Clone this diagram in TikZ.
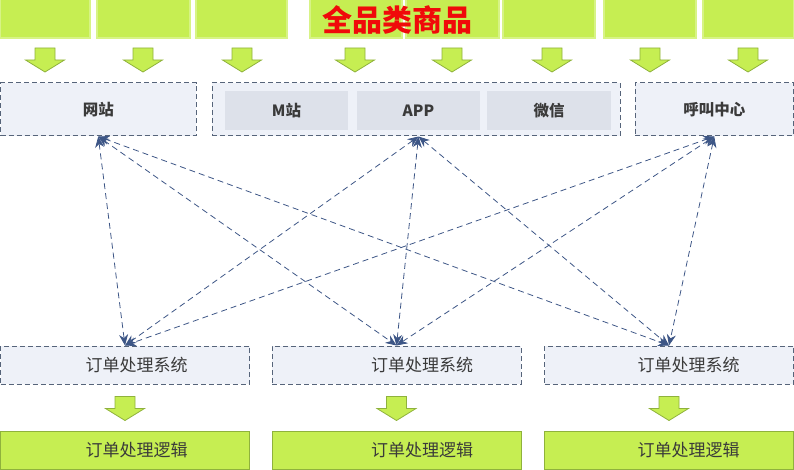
\documentclass[tikz,border=0pt]{standalone}
\usepackage{fontspec}
\setmainfont{Noto Sans CJK SC}
\usetikzlibrary{arrows.meta}
\definecolor{boxline}{HTML}{56647A}
\definecolor{boxfill}{HTML}{EEF1F8}
\definecolor{cellfill}{HTML}{DDE1EA}
\definecolor{leaf}{HTML}{C6EE52}
\definecolor{leafline}{HTML}{8FB23C}
\definecolor{linkblue}{HTML}{3D5686}
\definecolor{inkgray}{HTML}{3A3A3A}
\definecolor{titlered}{HTML}{F00A0A}
\tikzset{
  chanbox/.style={draw=boxline,fill=boxfill,dash pattern=on 5pt off 3pt,line width=1pt,
    inner sep=0pt,text=inkgray,font=\bfseries\fontsize{15.5}{17}\selectfont},
  cellbox/.style={fill=cellfill,inner sep=0pt,minimum height=39pt,
    text=inkgray,font=\bfseries\fontsize{15.5}{17}\selectfont},
  sysbox/.style={draw=boxline,fill=boxfill,dash pattern=on 5pt off 3pt,line width=1pt,
    inner sep=0pt,minimum width=249pt,minimum height=38pt,text=inkgray,font=\fontsize{17}{19}\selectfont},
  logicbox/.style={draw=leafline,fill=leaf,line width=1pt,
    inner sep=0pt,minimum width=249pt,minimum height=38pt,text=inkgray,font=\fontsize{17}{19}\selectfont},
  topbox/.style={fill=leaf,draw=leaf!70!white,line width=1.5pt,inner sep=0pt,minimum height=43pt},
  link/.style={linkblue,line width=0.8pt,dash pattern=on 6pt off 4pt,
    {Stealth[length=11pt,width=9pt]}-{Stealth[length=11pt,width=9pt]}},
  gdown/.pic={\draw[fill=leaf,draw=leafline,line width=0.8pt]
    (-10,0) -- (10,0) -- (10,12) -- (19.5,12) -- (0,24) -- (-19.5,12) -- (-10,12) -- cycle;}
}
\begin{document}
\begin{tikzpicture}[x=1pt,y=-1pt]
  \useasboundingbox (0,0) rectangle (794,470);
  \clip (0,0) rectangle (794,470);
  % top row of sources
  \node[topbox,minimum width=90pt] (t1) at (45,16.5) {};
  \node[topbox,minimum width=93pt] (t2) at (143.5,16.5) {};
  \node[topbox,minimum width=91pt] (t3) at (241.5,16.5) {};
  \node[topbox,minimum width=92pt] (t4) at (356,16.5) {};
  \node[topbox,minimum width=93pt] (t5) at (452.5,16.5) {};
  \node[topbox,minimum width=92pt] (t6) at (549,16.5) {};
  \node[topbox,minimum width=92pt] (t7) at (650,16.5) {};
  \node[topbox,minimum width=91pt] (t8) at (748.5,16.5) {};
  \node[text=titlered,font=\bfseries\fontsize{30}{32}\selectfont] (title) at (397,20) {全品类商品};
  \pic at (45,48) {gdown};
  \pic at (143,48) {gdown};
  \pic at (242,48) {gdown};
  \pic at (355,48) {gdown};
  \pic at (452,48) {gdown};
  \pic at (552,48) {gdown};
  \pic at (650,48) {gdown};
  \pic at (748,48) {gdown};
  % channels
  \node[chanbox,minimum width=195.5pt,minimum height=53pt] (web) at (98.25,109.5) {网站};
  \node[chanbox,minimum width=408pt,minimum height=53pt] (channels) at (416,109.5) {};
  \node[cellbox,minimum width=123pt] (mzhan) at (286.5,110.5) {M站};
  \node[cellbox,minimum width=123pt] (app) at (418.5,110.5) {APP};
  \node[cellbox,minimum width=124pt] (wechat) at (549,110.5) {微信};
  \node[chanbox,minimum width=158.5pt,minimum height=53pt] (callc) at (714.25,109.5) {呼叫中心};
  \coordinate (appfoot) at (app |- channels.south);
  % order systems
  \node[sysbox] (sys1) at (125,365) {\hspace*{23pt}订单处理系统};
  \node[sysbox] (sys2) at (396.5,365) {\hspace*{51pt}订单处理系统};
  \node[sysbox] (sys3) at (669,365) {\hspace*{39pt}订单处理系统};
  \node[logicbox] (logic1) at (125,450) {\hspace*{23pt}订单处理逻辑};
  \node[logicbox] (logic2) at (396.5,450) {\hspace*{51pt}订单处理逻辑};
  \node[logicbox] (logic3) at (669,450) {\hspace*{39pt}订单处理逻辑};
  \pic at ([yshift=-12pt]sys1.south) {gdown};
  \pic at ([yshift=-12pt]sys2.south) {gdown};
  \pic at ([yshift=-12pt]sys3.south) {gdown};
  % links
  \draw[link] (web.south) -- (sys1.north);
  \draw[link] (web.south) -- (sys2.north);
  \draw[link] (web.south) -- (sys3.north);
  \draw[link] (appfoot) -- (sys1.north);
  \draw[link] (appfoot) -- (sys2.north);
  \draw[link] (appfoot) -- (sys3.north);
  \draw[link] (callc.south) -- (sys1.north);
  \draw[link] (callc.south) -- (sys2.north);
  \draw[link] (callc.south) -- (sys3.north);
\end{tikzpicture}
\end{document}
